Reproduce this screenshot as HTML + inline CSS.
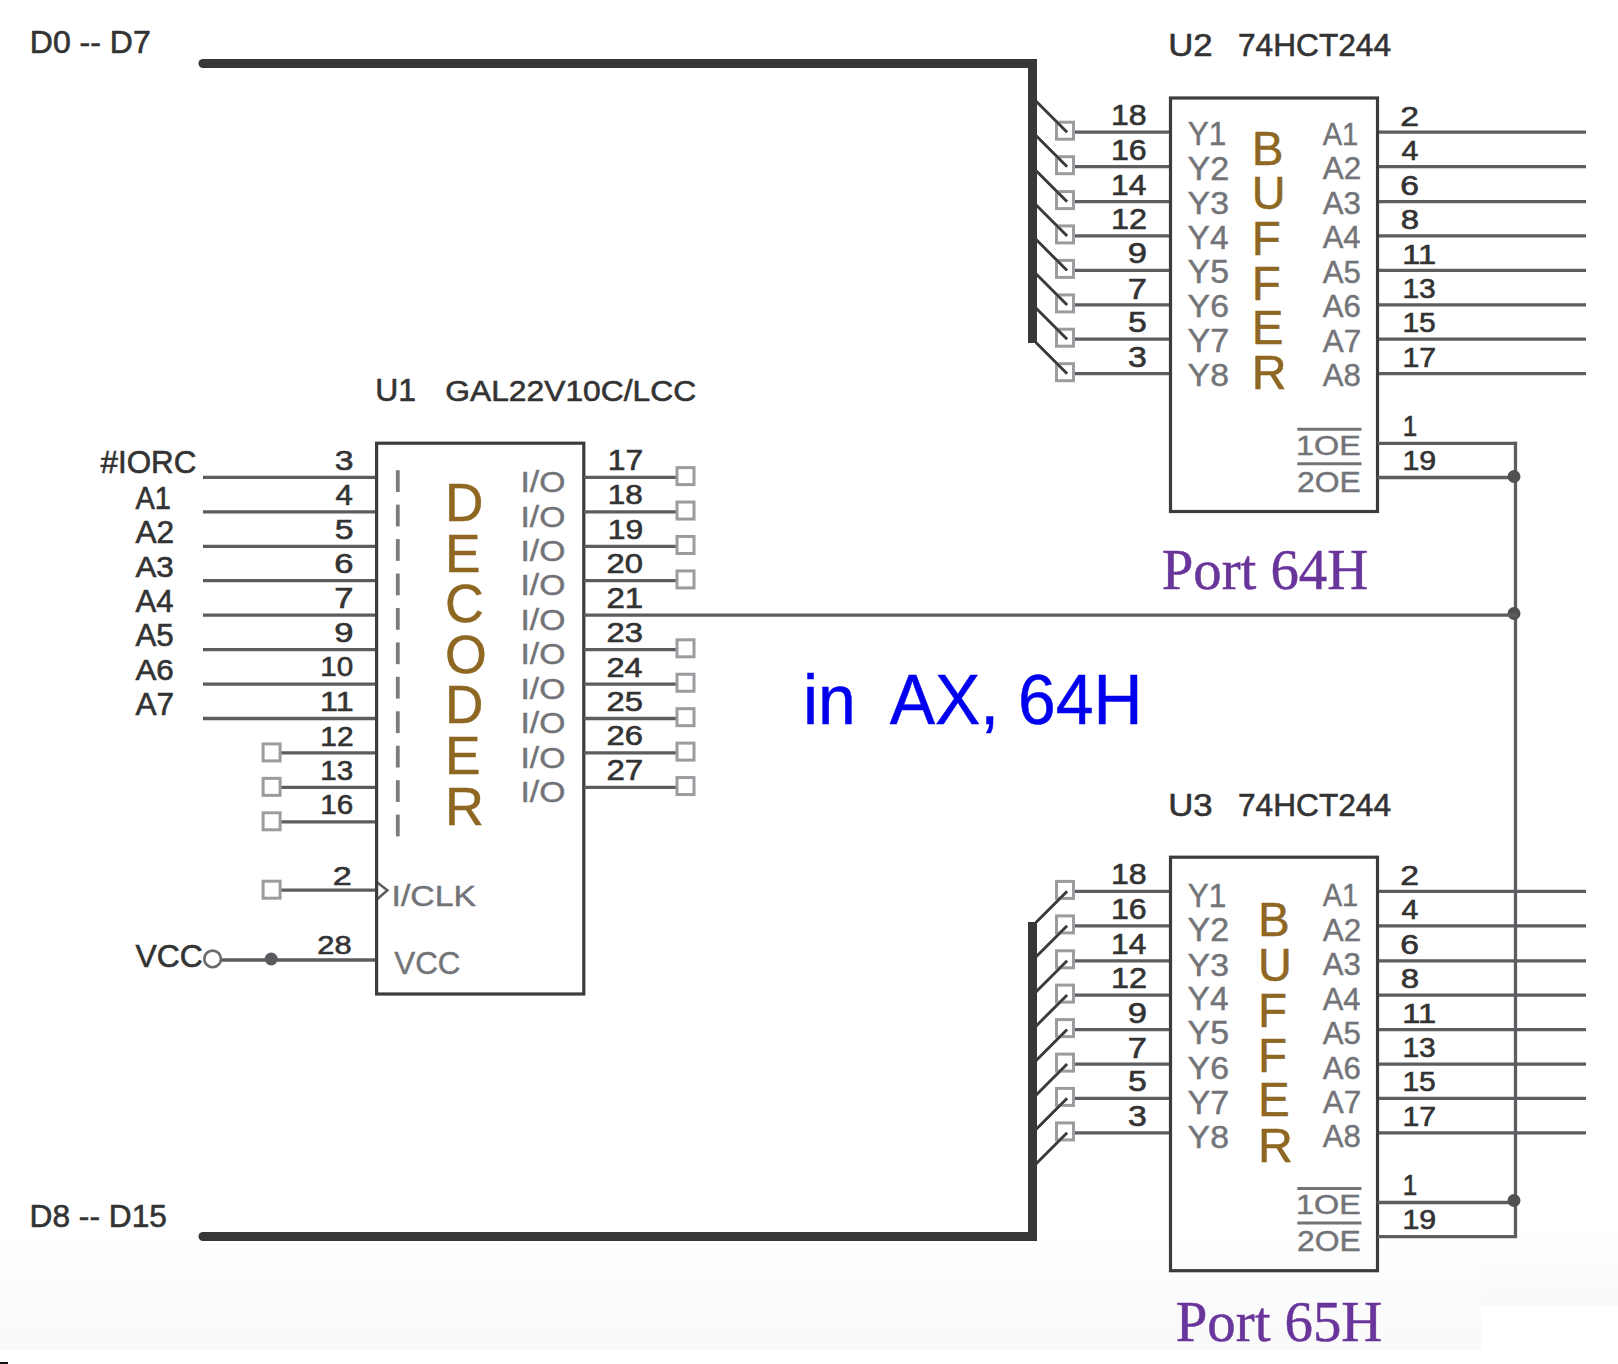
<!DOCTYPE html>
<html><head><meta charset="utf-8"><style>
html,body{margin:0;padding:0;background:#fff;}
svg{display:block;}
text{white-space:pre;}
</style></head><body>
<svg width="1618" height="1364" viewBox="0 0 1618 1364">
<g>
<rect x="0" y="0" width="1618" height="1364" fill="#fff"/>
<defs><linearGradient id="bg" x1="0" y1="0" x2="0" y2="1"><stop offset="0" stop-color="#ffffff"/><stop offset="1" stop-color="#f9f9f9"/></linearGradient></defs>
<rect x="0" y="1225" width="1481" height="125" fill="url(#bg)"/>
<rect x="1481" y="1225" width="137" height="81" fill="url(#bg)"/>
<rect x="0" y="1362" width="8" height="2" fill="#111"/>
<line x1="203" y1="63.5" x2="1032.5" y2="63.5" stroke="#373737" stroke-width="9" stroke-linecap="round"/>
<path d="M1020 63.5 H1032.5 V343" fill="none" stroke="#373737" stroke-width="9" stroke-linecap="butt" stroke-linejoin="miter"/>
<line x1="203" y1="1236.5" x2="1032.5" y2="1236.5" stroke="#373737" stroke-width="9" stroke-linecap="round"/>
<path d="M1020 1236.5 H1032.5 V922" fill="none" stroke="#373737" stroke-width="9" stroke-linecap="butt" stroke-linejoin="miter"/>
<line x1="1036" y1="101.19999999999999" x2="1067" y2="132.2" stroke="#3c3c3c" stroke-width="2.6" stroke-linecap="butt"/>
<line x1="1074" y1="132.2" x2="1170.5" y2="132.2" stroke="#5c5d60" stroke-width="3.3" stroke-linecap="butt"/>
<line x1="1377.5" y1="132.2" x2="1586" y2="132.2" stroke="#5c5d60" stroke-width="3.3" stroke-linecap="butt"/>
<line x1="1036" y1="135.7" x2="1067" y2="166.7" stroke="#3c3c3c" stroke-width="2.6" stroke-linecap="butt"/>
<line x1="1074" y1="166.7" x2="1170.5" y2="166.7" stroke="#5c5d60" stroke-width="3.3" stroke-linecap="butt"/>
<line x1="1377.5" y1="166.7" x2="1586" y2="166.7" stroke="#5c5d60" stroke-width="3.3" stroke-linecap="butt"/>
<line x1="1036" y1="170.6" x2="1067" y2="201.6" stroke="#3c3c3c" stroke-width="2.6" stroke-linecap="butt"/>
<line x1="1074" y1="201.6" x2="1170.5" y2="201.6" stroke="#5c5d60" stroke-width="3.3" stroke-linecap="butt"/>
<line x1="1377.5" y1="201.6" x2="1586" y2="201.6" stroke="#5c5d60" stroke-width="3.3" stroke-linecap="butt"/>
<line x1="1036" y1="204.9" x2="1067" y2="235.9" stroke="#3c3c3c" stroke-width="2.6" stroke-linecap="butt"/>
<line x1="1074" y1="235.9" x2="1170.5" y2="235.9" stroke="#5c5d60" stroke-width="3.3" stroke-linecap="butt"/>
<line x1="1377.5" y1="235.9" x2="1586" y2="235.9" stroke="#5c5d60" stroke-width="3.3" stroke-linecap="butt"/>
<line x1="1036" y1="239.39999999999998" x2="1067" y2="270.4" stroke="#3c3c3c" stroke-width="2.6" stroke-linecap="butt"/>
<line x1="1074" y1="270.4" x2="1170.5" y2="270.4" stroke="#5c5d60" stroke-width="3.3" stroke-linecap="butt"/>
<line x1="1377.5" y1="270.4" x2="1586" y2="270.4" stroke="#5c5d60" stroke-width="3.3" stroke-linecap="butt"/>
<line x1="1036" y1="273.9" x2="1067" y2="304.9" stroke="#3c3c3c" stroke-width="2.6" stroke-linecap="butt"/>
<line x1="1074" y1="304.9" x2="1170.5" y2="304.9" stroke="#5c5d60" stroke-width="3.3" stroke-linecap="butt"/>
<line x1="1377.5" y1="304.9" x2="1586" y2="304.9" stroke="#5c5d60" stroke-width="3.3" stroke-linecap="butt"/>
<line x1="1036" y1="308.2" x2="1067" y2="339.2" stroke="#3c3c3c" stroke-width="2.6" stroke-linecap="butt"/>
<line x1="1074" y1="339.2" x2="1170.5" y2="339.2" stroke="#5c5d60" stroke-width="3.3" stroke-linecap="butt"/>
<line x1="1377.5" y1="339.2" x2="1586" y2="339.2" stroke="#5c5d60" stroke-width="3.3" stroke-linecap="butt"/>
<line x1="1036" y1="342.7" x2="1067" y2="373.7" stroke="#3c3c3c" stroke-width="2.6" stroke-linecap="butt"/>
<line x1="1074" y1="373.7" x2="1170.5" y2="373.7" stroke="#5c5d60" stroke-width="3.3" stroke-linecap="butt"/>
<line x1="1377.5" y1="373.7" x2="1586" y2="373.7" stroke="#5c5d60" stroke-width="3.3" stroke-linecap="butt"/>
<rect x="1056.5" y="122.19999999999999" width="17" height="17" fill="none" stroke="#9a9ca0" stroke-width="3"/>
<line x1="1036" y1="101.19999999999999" x2="1067" y2="132.2" stroke="#3c3c3c" stroke-width="2.6" stroke-linecap="butt"/>
<rect x="1056.5" y="156.7" width="17" height="17" fill="none" stroke="#9a9ca0" stroke-width="3"/>
<line x1="1036" y1="135.7" x2="1067" y2="166.7" stroke="#3c3c3c" stroke-width="2.6" stroke-linecap="butt"/>
<rect x="1056.5" y="191.6" width="17" height="17" fill="none" stroke="#9a9ca0" stroke-width="3"/>
<line x1="1036" y1="170.6" x2="1067" y2="201.6" stroke="#3c3c3c" stroke-width="2.6" stroke-linecap="butt"/>
<rect x="1056.5" y="225.9" width="17" height="17" fill="none" stroke="#9a9ca0" stroke-width="3"/>
<line x1="1036" y1="204.9" x2="1067" y2="235.9" stroke="#3c3c3c" stroke-width="2.6" stroke-linecap="butt"/>
<rect x="1056.5" y="260.4" width="17" height="17" fill="none" stroke="#9a9ca0" stroke-width="3"/>
<line x1="1036" y1="239.39999999999998" x2="1067" y2="270.4" stroke="#3c3c3c" stroke-width="2.6" stroke-linecap="butt"/>
<rect x="1056.5" y="294.9" width="17" height="17" fill="none" stroke="#9a9ca0" stroke-width="3"/>
<line x1="1036" y1="273.9" x2="1067" y2="304.9" stroke="#3c3c3c" stroke-width="2.6" stroke-linecap="butt"/>
<rect x="1056.5" y="329.2" width="17" height="17" fill="none" stroke="#9a9ca0" stroke-width="3"/>
<line x1="1036" y1="308.2" x2="1067" y2="339.2" stroke="#3c3c3c" stroke-width="2.6" stroke-linecap="butt"/>
<rect x="1056.5" y="363.7" width="17" height="17" fill="none" stroke="#9a9ca0" stroke-width="3"/>
<line x1="1036" y1="342.7" x2="1067" y2="373.7" stroke="#3c3c3c" stroke-width="2.6" stroke-linecap="butt"/>
<rect x="1170.5" y="98" width="207" height="413.5" fill="none" stroke="#3c3c3c" stroke-width="3.2"/>
<line x1="1377.5" y1="443.3" x2="1517" y2="443.3" stroke="#5c5d60" stroke-width="3.3" stroke-linecap="butt"/>
<line x1="1377.5" y1="477.5" x2="1517" y2="477.5" stroke="#5c5d60" stroke-width="3.3" stroke-linecap="butt"/>
<line x1="1297.3" y1="429.2" x2="1361.5" y2="429.2" stroke="#737478" stroke-width="3" stroke-linecap="butt"/>
<line x1="1297.3" y1="463.7" x2="1361.5" y2="463.7" stroke="#737478" stroke-width="3" stroke-linecap="butt"/>
<line x1="1036" y1="922.4000000000001" x2="1067" y2="891.4000000000001" stroke="#3c3c3c" stroke-width="2.6" stroke-linecap="butt"/>
<line x1="1074" y1="891.4000000000001" x2="1170.5" y2="891.4000000000001" stroke="#5c5d60" stroke-width="3.3" stroke-linecap="butt"/>
<line x1="1377.5" y1="891.4000000000001" x2="1586" y2="891.4000000000001" stroke="#5c5d60" stroke-width="3.3" stroke-linecap="butt"/>
<line x1="1036" y1="956.9000000000001" x2="1067" y2="925.9000000000001" stroke="#3c3c3c" stroke-width="2.6" stroke-linecap="butt"/>
<line x1="1074" y1="925.9000000000001" x2="1170.5" y2="925.9000000000001" stroke="#5c5d60" stroke-width="3.3" stroke-linecap="butt"/>
<line x1="1377.5" y1="925.9000000000001" x2="1586" y2="925.9000000000001" stroke="#5c5d60" stroke-width="3.3" stroke-linecap="butt"/>
<line x1="1036" y1="991.8000000000001" x2="1067" y2="960.8000000000001" stroke="#3c3c3c" stroke-width="2.6" stroke-linecap="butt"/>
<line x1="1074" y1="960.8000000000001" x2="1170.5" y2="960.8000000000001" stroke="#5c5d60" stroke-width="3.3" stroke-linecap="butt"/>
<line x1="1377.5" y1="960.8000000000001" x2="1586" y2="960.8000000000001" stroke="#5c5d60" stroke-width="3.3" stroke-linecap="butt"/>
<line x1="1036" y1="1026.1" x2="1067" y2="995.1" stroke="#3c3c3c" stroke-width="2.6" stroke-linecap="butt"/>
<line x1="1074" y1="995.1" x2="1170.5" y2="995.1" stroke="#5c5d60" stroke-width="3.3" stroke-linecap="butt"/>
<line x1="1377.5" y1="995.1" x2="1586" y2="995.1" stroke="#5c5d60" stroke-width="3.3" stroke-linecap="butt"/>
<line x1="1036" y1="1060.6" x2="1067" y2="1029.6" stroke="#3c3c3c" stroke-width="2.6" stroke-linecap="butt"/>
<line x1="1074" y1="1029.6" x2="1170.5" y2="1029.6" stroke="#5c5d60" stroke-width="3.3" stroke-linecap="butt"/>
<line x1="1377.5" y1="1029.6" x2="1586" y2="1029.6" stroke="#5c5d60" stroke-width="3.3" stroke-linecap="butt"/>
<line x1="1036" y1="1095.1" x2="1067" y2="1064.1" stroke="#3c3c3c" stroke-width="2.6" stroke-linecap="butt"/>
<line x1="1074" y1="1064.1" x2="1170.5" y2="1064.1" stroke="#5c5d60" stroke-width="3.3" stroke-linecap="butt"/>
<line x1="1377.5" y1="1064.1" x2="1586" y2="1064.1" stroke="#5c5d60" stroke-width="3.3" stroke-linecap="butt"/>
<line x1="1036" y1="1129.4" x2="1067" y2="1098.4" stroke="#3c3c3c" stroke-width="2.6" stroke-linecap="butt"/>
<line x1="1074" y1="1098.4" x2="1170.5" y2="1098.4" stroke="#5c5d60" stroke-width="3.3" stroke-linecap="butt"/>
<line x1="1377.5" y1="1098.4" x2="1586" y2="1098.4" stroke="#5c5d60" stroke-width="3.3" stroke-linecap="butt"/>
<line x1="1036" y1="1163.9" x2="1067" y2="1132.9" stroke="#3c3c3c" stroke-width="2.6" stroke-linecap="butt"/>
<line x1="1074" y1="1132.9" x2="1170.5" y2="1132.9" stroke="#5c5d60" stroke-width="3.3" stroke-linecap="butt"/>
<line x1="1377.5" y1="1132.9" x2="1586" y2="1132.9" stroke="#5c5d60" stroke-width="3.3" stroke-linecap="butt"/>
<rect x="1056.5" y="881.4000000000001" width="17" height="17" fill="none" stroke="#9a9ca0" stroke-width="3"/>
<line x1="1036" y1="922.4000000000001" x2="1067" y2="891.4000000000001" stroke="#3c3c3c" stroke-width="2.6" stroke-linecap="butt"/>
<rect x="1056.5" y="915.9000000000001" width="17" height="17" fill="none" stroke="#9a9ca0" stroke-width="3"/>
<line x1="1036" y1="956.9000000000001" x2="1067" y2="925.9000000000001" stroke="#3c3c3c" stroke-width="2.6" stroke-linecap="butt"/>
<rect x="1056.5" y="950.8000000000001" width="17" height="17" fill="none" stroke="#9a9ca0" stroke-width="3"/>
<line x1="1036" y1="991.8000000000001" x2="1067" y2="960.8000000000001" stroke="#3c3c3c" stroke-width="2.6" stroke-linecap="butt"/>
<rect x="1056.5" y="985.1" width="17" height="17" fill="none" stroke="#9a9ca0" stroke-width="3"/>
<line x1="1036" y1="1026.1" x2="1067" y2="995.1" stroke="#3c3c3c" stroke-width="2.6" stroke-linecap="butt"/>
<rect x="1056.5" y="1019.5999999999999" width="17" height="17" fill="none" stroke="#9a9ca0" stroke-width="3"/>
<line x1="1036" y1="1060.6" x2="1067" y2="1029.6" stroke="#3c3c3c" stroke-width="2.6" stroke-linecap="butt"/>
<rect x="1056.5" y="1054.1" width="17" height="17" fill="none" stroke="#9a9ca0" stroke-width="3"/>
<line x1="1036" y1="1095.1" x2="1067" y2="1064.1" stroke="#3c3c3c" stroke-width="2.6" stroke-linecap="butt"/>
<rect x="1056.5" y="1088.4" width="17" height="17" fill="none" stroke="#9a9ca0" stroke-width="3"/>
<line x1="1036" y1="1129.4" x2="1067" y2="1098.4" stroke="#3c3c3c" stroke-width="2.6" stroke-linecap="butt"/>
<rect x="1056.5" y="1122.9" width="17" height="17" fill="none" stroke="#9a9ca0" stroke-width="3"/>
<line x1="1036" y1="1163.9" x2="1067" y2="1132.9" stroke="#3c3c3c" stroke-width="2.6" stroke-linecap="butt"/>
<rect x="1170.5" y="857.2" width="207" height="413.5" fill="none" stroke="#3c3c3c" stroke-width="3.2"/>
<line x1="1377.5" y1="1202.5" x2="1517" y2="1202.5" stroke="#5c5d60" stroke-width="3.3" stroke-linecap="butt"/>
<line x1="1377.5" y1="1236.7" x2="1517" y2="1236.7" stroke="#5c5d60" stroke-width="3.3" stroke-linecap="butt"/>
<line x1="1297.3" y1="1188.4" x2="1361.5" y2="1188.4" stroke="#737478" stroke-width="3" stroke-linecap="butt"/>
<line x1="1297.3" y1="1222.9" x2="1361.5" y2="1222.9" stroke="#737478" stroke-width="3" stroke-linecap="butt"/>
<line x1="1515.5" y1="441.8" x2="1515.5" y2="1237.5" stroke="#5c5d60" stroke-width="3.3" stroke-linecap="butt"/>
<circle cx="1514" cy="476.5" r="6.5" fill="#505153" stroke="none" stroke-width="0"/>
<circle cx="1514" cy="613.5" r="6.5" fill="#505153" stroke="none" stroke-width="0"/>
<circle cx="1514" cy="1200.5" r="6.5" fill="#505153" stroke="none" stroke-width="0"/>
<line x1="203" y1="477.4" x2="376.6" y2="477.4" stroke="#5c5d60" stroke-width="3.3" stroke-linecap="butt"/>
<rect x="395.9" y="470.20" width="3.8" height="21.8" fill="#7a7b7e"/>
<line x1="203" y1="511.84" x2="376.6" y2="511.84" stroke="#5c5d60" stroke-width="3.3" stroke-linecap="butt"/>
<rect x="395.9" y="504.64" width="3.8" height="21.8" fill="#7a7b7e"/>
<line x1="203" y1="546.28" x2="376.6" y2="546.28" stroke="#5c5d60" stroke-width="3.3" stroke-linecap="butt"/>
<rect x="395.9" y="539.08" width="3.8" height="21.8" fill="#7a7b7e"/>
<line x1="203" y1="580.72" x2="376.6" y2="580.72" stroke="#5c5d60" stroke-width="3.3" stroke-linecap="butt"/>
<rect x="395.9" y="573.52" width="3.8" height="21.8" fill="#7a7b7e"/>
<line x1="203" y1="615.16" x2="376.6" y2="615.16" stroke="#5c5d60" stroke-width="3.3" stroke-linecap="butt"/>
<rect x="395.9" y="607.96" width="3.8" height="21.8" fill="#7a7b7e"/>
<line x1="203" y1="649.5999999999999" x2="376.6" y2="649.5999999999999" stroke="#5c5d60" stroke-width="3.3" stroke-linecap="butt"/>
<rect x="395.9" y="642.40" width="3.8" height="21.8" fill="#7a7b7e"/>
<line x1="203" y1="684.04" x2="376.6" y2="684.04" stroke="#5c5d60" stroke-width="3.3" stroke-linecap="butt"/>
<rect x="395.9" y="676.84" width="3.8" height="21.8" fill="#7a7b7e"/>
<line x1="203" y1="718.48" x2="376.6" y2="718.48" stroke="#5c5d60" stroke-width="3.3" stroke-linecap="butt"/>
<rect x="395.9" y="711.28" width="3.8" height="21.8" fill="#7a7b7e"/>
<line x1="281" y1="752.92" x2="376.6" y2="752.92" stroke="#5c5d60" stroke-width="3.3" stroke-linecap="butt"/>
<rect x="263.1" y="743.92" width="17" height="17" fill="#fff" stroke="#9a9ca0" stroke-width="3"/>
<rect x="395.9" y="745.72" width="3.8" height="21.8" fill="#7a7b7e"/>
<line x1="281" y1="787.3599999999999" x2="376.6" y2="787.3599999999999" stroke="#5c5d60" stroke-width="3.3" stroke-linecap="butt"/>
<rect x="263.1" y="778.3599999999999" width="17" height="17" fill="#fff" stroke="#9a9ca0" stroke-width="3"/>
<rect x="395.9" y="780.16" width="3.8" height="21.8" fill="#7a7b7e"/>
<line x1="281" y1="821.8" x2="376.6" y2="821.8" stroke="#5c5d60" stroke-width="3.3" stroke-linecap="butt"/>
<rect x="263.1" y="812.8" width="17" height="17" fill="#fff" stroke="#9a9ca0" stroke-width="3"/>
<rect x="395.9" y="814.60" width="3.8" height="21.8" fill="#7a7b7e"/>
<line x1="281" y1="890.2" x2="376.6" y2="890.2" stroke="#5c5d60" stroke-width="3.3" stroke-linecap="butt"/>
<rect x="263.1" y="881.2" width="17" height="17" fill="#fff" stroke="#9a9ca0" stroke-width="3"/>
<path d="M376 881.6 L387.4 890.2 L376 900.2" fill="none" stroke="#5c5d60" stroke-width="2.5" stroke-linecap="butt" stroke-linejoin="miter"/>
<line x1="221" y1="960.0" x2="376.6" y2="960.0" stroke="#5c5d60" stroke-width="3.3" stroke-linecap="butt"/>
<circle cx="212.6" cy="958.9" r="8.3" fill="#fff" stroke="#6a6b6e" stroke-width="2.6"/>
<circle cx="271.2" cy="959.0" r="6.5" fill="#5a5b5f" stroke="none" stroke-width="0"/>
<rect x="376.6" y="443.2" width="207.2" height="550.8" fill="none" stroke="#3c3c3c" stroke-width="3.2"/>
<line x1="583.8" y1="477.4" x2="677" y2="477.4" stroke="#5c5d60" stroke-width="3.3" stroke-linecap="butt"/>
<rect x="677.0" y="467.59999999999997" width="17" height="17" fill="#fff" stroke="#9a9ca0" stroke-width="3"/>
<line x1="583.8" y1="511.84" x2="677" y2="511.84" stroke="#5c5d60" stroke-width="3.3" stroke-linecap="butt"/>
<rect x="677.0" y="502.03999999999996" width="17" height="17" fill="#fff" stroke="#9a9ca0" stroke-width="3"/>
<line x1="583.8" y1="546.28" x2="677" y2="546.28" stroke="#5c5d60" stroke-width="3.3" stroke-linecap="butt"/>
<rect x="677.0" y="536.48" width="17" height="17" fill="#fff" stroke="#9a9ca0" stroke-width="3"/>
<line x1="583.8" y1="580.72" x2="677" y2="580.72" stroke="#5c5d60" stroke-width="3.3" stroke-linecap="butt"/>
<rect x="677.0" y="570.9200000000001" width="17" height="17" fill="#fff" stroke="#9a9ca0" stroke-width="3"/>
<line x1="583.8" y1="615.16" x2="1517" y2="615.16" stroke="#5c5d60" stroke-width="3.3" stroke-linecap="butt"/>
<line x1="583.8" y1="649.5999999999999" x2="677" y2="649.5999999999999" stroke="#5c5d60" stroke-width="3.3" stroke-linecap="butt"/>
<rect x="677.0" y="639.8" width="17" height="17" fill="#fff" stroke="#9a9ca0" stroke-width="3"/>
<line x1="583.8" y1="684.04" x2="677" y2="684.04" stroke="#5c5d60" stroke-width="3.3" stroke-linecap="butt"/>
<rect x="677.0" y="674.24" width="17" height="17" fill="#fff" stroke="#9a9ca0" stroke-width="3"/>
<line x1="583.8" y1="718.48" x2="677" y2="718.48" stroke="#5c5d60" stroke-width="3.3" stroke-linecap="butt"/>
<rect x="677.0" y="708.6800000000001" width="17" height="17" fill="#fff" stroke="#9a9ca0" stroke-width="3"/>
<line x1="583.8" y1="752.92" x2="677" y2="752.92" stroke="#5c5d60" stroke-width="3.3" stroke-linecap="butt"/>
<rect x="677.0" y="743.12" width="17" height="17" fill="#fff" stroke="#9a9ca0" stroke-width="3"/>
<line x1="583.8" y1="787.3599999999999" x2="677" y2="787.3599999999999" stroke="#5c5d60" stroke-width="3.3" stroke-linecap="butt"/>
<rect x="677.0" y="777.56" width="17" height="17" fill="#fff" stroke="#9a9ca0" stroke-width="3"/>
<text transform="translate(29.84 53.09) scale(1.0188 1)" font-size="31.41" font-family="'Liberation Sans', sans-serif" fill="#333333" stroke="#333333" stroke-width="0.60">D0 -- D7</text>
<text transform="translate(29.57 1227.09) scale(1.0226 1)" font-size="30.99" font-family="'Liberation Sans', sans-serif" fill="#333333" stroke="#333333" stroke-width="0.60">D8 -- D15</text>
<text transform="translate(1168.22 56.48) scale(1.0784 1)" font-size="32.25" font-family="'Liberation Sans', sans-serif" fill="#333333" stroke="#333333" stroke-width="0.60">U2</text>
<text transform="translate(1238.02 56.48) scale(0.9816 1)" font-size="32.25" font-family="'Liberation Sans', sans-serif" fill="#333333" stroke="#333333" stroke-width="0.60">74HCT244</text>
<text transform="translate(1110.93 125.21) scale(1.1235 1)" font-size="28.59" font-family="'Liberation Sans', sans-serif" fill="#333333" stroke="#333333" stroke-width="0.60">18</text>
<text transform="translate(1400.32 125.50) scale(1.2349 1)" font-size="27.29" font-family="'Liberation Sans', sans-serif" fill="#333333" stroke="#333333" stroke-width="0.60">2</text>
<text transform="translate(1187.66 145.00) scale(0.9572 1)" font-size="32.90" font-family="'Liberation Sans', sans-serif" fill="#737478" stroke="#737478" stroke-width="0.45">Y1</text>
<text transform="translate(1322.70 144.70) scale(0.9267 1)" font-size="31.45" font-family="'Liberation Sans', sans-serif" fill="#737478" stroke="#737478" stroke-width="0.45">A1</text>
<text transform="translate(1110.93 159.71) scale(1.1235 1)" font-size="28.59" font-family="'Liberation Sans', sans-serif" fill="#333333" stroke="#333333" stroke-width="0.60">16</text>
<text transform="translate(1401.39 160.28) scale(1.0820 1)" font-size="28.09" font-family="'Liberation Sans', sans-serif" fill="#333333" stroke="#333333" stroke-width="0.60">4</text>
<text transform="translate(1187.58 179.50) scale(1.0522 1)" font-size="32.43" font-family="'Liberation Sans', sans-serif" fill="#737478" stroke="#737478" stroke-width="0.45">Y2</text>
<text transform="translate(1322.70 179.20) scale(1.0146 1)" font-size="31.00" font-family="'Liberation Sans', sans-serif" fill="#737478" stroke="#737478" stroke-width="0.45">A2</text>
<text transform="translate(1110.96 194.90) scale(1.0809 1)" font-size="29.42" font-family="'Liberation Sans', sans-serif" fill="#333333" stroke="#333333" stroke-width="0.60">14</text>
<text transform="translate(1400.32 194.63) scale(1.2526 1)" font-size="26.90" font-family="'Liberation Sans', sans-serif" fill="#333333" stroke="#333333" stroke-width="0.60">6</text>
<text transform="translate(1187.59 214.08) scale(1.0580 1)" font-size="31.97" font-family="'Liberation Sans', sans-serif" fill="#737478" stroke="#737478" stroke-width="0.45">Y3</text>
<text transform="translate(1322.70 213.79) scale(1.0204 1)" font-size="30.56" font-family="'Liberation Sans', sans-serif" fill="#737478" stroke="#737478" stroke-width="0.45">A3</text>
<text transform="translate(1110.90 229.20) scale(1.1189 1)" font-size="29.00" font-family="'Liberation Sans', sans-serif" fill="#333333" stroke="#333333" stroke-width="0.60">12</text>
<text transform="translate(1400.68 228.93) scale(1.2259 1)" font-size="26.90" font-family="'Liberation Sans', sans-serif" fill="#333333" stroke="#333333" stroke-width="0.60">8</text>
<text transform="translate(1187.59 248.70) scale(1.0193 1)" font-size="32.90" font-family="'Liberation Sans', sans-serif" fill="#737478" stroke="#737478" stroke-width="0.45">Y4</text>
<text transform="translate(1322.70 248.40) scale(0.9833 1)" font-size="31.45" font-family="'Liberation Sans', sans-serif" fill="#737478" stroke="#737478" stroke-width="0.45">A4</text>
<text transform="translate(1127.67 263.41) scale(1.2089 1)" font-size="28.59" font-family="'Liberation Sans', sans-serif" fill="#333333" stroke="#333333" stroke-width="0.60">9</text>
<text transform="translate(1402.19 263.70) scale(1.1790 1)" font-size="27.68" font-family="'Liberation Sans', sans-serif" fill="#333333" stroke="#333333" stroke-width="0.60">11</text>
<text transform="translate(1187.59 282.88) scale(1.0431 1)" font-size="32.43" font-family="'Liberation Sans', sans-serif" fill="#737478" stroke="#737478" stroke-width="0.45">Y5</text>
<text transform="translate(1322.70 282.59) scale(1.0060 1)" font-size="31.00" font-family="'Liberation Sans', sans-serif" fill="#737478" stroke="#737478" stroke-width="0.45">A5</text>
<text transform="translate(1127.67 298.50) scale(1.1578 1)" font-size="29.85" font-family="'Liberation Sans', sans-serif" fill="#333333" stroke="#333333" stroke-width="0.60">7</text>
<text transform="translate(1402.40 297.93) scale(1.1152 1)" font-size="26.90" font-family="'Liberation Sans', sans-serif" fill="#333333" stroke="#333333" stroke-width="0.60">13</text>
<text transform="translate(1187.59 317.38) scale(1.0580 1)" font-size="31.97" font-family="'Liberation Sans', sans-serif" fill="#737478" stroke="#737478" stroke-width="0.45">Y6</text>
<text transform="translate(1322.70 317.09) scale(1.0204 1)" font-size="30.56" font-family="'Liberation Sans', sans-serif" fill="#737478" stroke="#737478" stroke-width="0.45">A6</text>
<text transform="translate(1128.05 332.21) scale(1.1665 1)" font-size="29.00" font-family="'Liberation Sans', sans-serif" fill="#333333" stroke="#333333" stroke-width="0.60">5</text>
<text transform="translate(1402.40 332.23) scale(1.0995 1)" font-size="27.29" font-family="'Liberation Sans', sans-serif" fill="#333333" stroke="#333333" stroke-width="0.60">15</text>
<text transform="translate(1187.58 352.00) scale(1.0372 1)" font-size="32.90" font-family="'Liberation Sans', sans-serif" fill="#737478" stroke="#737478" stroke-width="0.45">Y7</text>
<text x="1322.70" y="351.70" font-size="31.45" font-family="'Liberation Sans', sans-serif" fill="#737478" stroke="#737478" stroke-width="0.45">A7</text>
<text transform="translate(1128.05 366.71) scale(1.1832 1)" font-size="28.59" font-family="'Liberation Sans', sans-serif" fill="#333333" stroke="#333333" stroke-width="0.60">3</text>
<text transform="translate(1402.38 367.00) scale(1.0948 1)" font-size="27.68" font-family="'Liberation Sans', sans-serif" fill="#333333" stroke="#333333" stroke-width="0.60">17</text>
<text transform="translate(1187.59 386.18) scale(1.0580 1)" font-size="31.97" font-family="'Liberation Sans', sans-serif" fill="#737478" stroke="#737478" stroke-width="0.45">Y8</text>
<text transform="translate(1322.70 385.89) scale(1.0204 1)" font-size="30.56" font-family="'Liberation Sans', sans-serif" fill="#737478" stroke="#737478" stroke-width="0.45">A8</text>
<text x="1251.80" y="165.10" font-size="47.54" font-family="'Liberation Sans', sans-serif" fill="#8e6722" stroke="#8e6722" stroke-width="0.50">B</text>
<text x="1251.85" y="208.73" font-size="46.86" font-family="'Liberation Sans', sans-serif" fill="#8e6722" stroke="#8e6722" stroke-width="0.50">U</text>
<text x="1251.80" y="255.40" font-size="47.54" font-family="'Liberation Sans', sans-serif" fill="#8e6722" stroke="#8e6722" stroke-width="0.50">F</text>
<text x="1251.80" y="299.50" font-size="47.54" font-family="'Liberation Sans', sans-serif" fill="#8e6722" stroke="#8e6722" stroke-width="0.50">F</text>
<text x="1251.80" y="343.60" font-size="47.54" font-family="'Liberation Sans', sans-serif" fill="#8e6722" stroke="#8e6722" stroke-width="0.50">E</text>
<text x="1251.74" y="389.18" font-size="48.24" font-family="'Liberation Sans', sans-serif" fill="#8e6722" stroke="#8e6722" stroke-width="0.50">R</text>
<text transform="translate(1402.72 436.20) scale(0.9077 1)" font-size="28.70" font-family="'Liberation Sans', sans-serif" fill="#333333" stroke="#333333" stroke-width="0.60">1</text>
<text transform="translate(1402.38 469.93) scale(1.1325 1)" font-size="26.76" font-family="'Liberation Sans', sans-serif" fill="#333333" stroke="#333333" stroke-width="0.60">19</text>
<text transform="translate(1296.11 455.23) scale(1.1775 1)" font-size="27.46" font-family="'Liberation Sans', sans-serif" fill="#737478" stroke="#737478" stroke-width="0.45">1OE</text>
<text transform="translate(1297.11 491.70) scale(1.0661 1)" font-size="29.86" font-family="'Liberation Sans', sans-serif" fill="#737478" stroke="#737478" stroke-width="0.45">2OE</text>
<text transform="translate(1161.70 589.36) scale(0.9955 1)" font-size="57.01" font-family="'Liberation Serif', serif" fill="#69359a" stroke="#69359a" stroke-width="0.50">Port 64H</text>
<text transform="translate(1168.22 815.68) scale(1.0784 1)" font-size="32.25" font-family="'Liberation Sans', sans-serif" fill="#333333" stroke="#333333" stroke-width="0.60">U3</text>
<text transform="translate(1238.02 815.68) scale(0.9816 1)" font-size="32.25" font-family="'Liberation Sans', sans-serif" fill="#333333" stroke="#333333" stroke-width="0.60">74HCT244</text>
<text transform="translate(1110.93 884.41) scale(1.1235 1)" font-size="28.59" font-family="'Liberation Sans', sans-serif" fill="#333333" stroke="#333333" stroke-width="0.60">18</text>
<text transform="translate(1400.32 884.70) scale(1.2349 1)" font-size="27.29" font-family="'Liberation Sans', sans-serif" fill="#333333" stroke="#333333" stroke-width="0.60">2</text>
<text transform="translate(1187.66 906.60) scale(0.9572 1)" font-size="32.90" font-family="'Liberation Sans', sans-serif" fill="#737478" stroke="#737478" stroke-width="0.45">Y1</text>
<text transform="translate(1322.70 906.30) scale(0.9267 1)" font-size="31.45" font-family="'Liberation Sans', sans-serif" fill="#737478" stroke="#737478" stroke-width="0.45">A1</text>
<text transform="translate(1110.93 918.91) scale(1.1235 1)" font-size="28.59" font-family="'Liberation Sans', sans-serif" fill="#333333" stroke="#333333" stroke-width="0.60">16</text>
<text transform="translate(1401.39 919.48) scale(1.0820 1)" font-size="28.09" font-family="'Liberation Sans', sans-serif" fill="#333333" stroke="#333333" stroke-width="0.60">4</text>
<text transform="translate(1187.58 941.10) scale(1.0522 1)" font-size="32.43" font-family="'Liberation Sans', sans-serif" fill="#737478" stroke="#737478" stroke-width="0.45">Y2</text>
<text transform="translate(1322.70 940.80) scale(1.0146 1)" font-size="31.00" font-family="'Liberation Sans', sans-serif" fill="#737478" stroke="#737478" stroke-width="0.45">A2</text>
<text transform="translate(1110.96 954.10) scale(1.0809 1)" font-size="29.42" font-family="'Liberation Sans', sans-serif" fill="#333333" stroke="#333333" stroke-width="0.60">14</text>
<text transform="translate(1400.32 953.83) scale(1.2526 1)" font-size="26.90" font-family="'Liberation Sans', sans-serif" fill="#333333" stroke="#333333" stroke-width="0.60">6</text>
<text transform="translate(1187.59 975.68) scale(1.0580 1)" font-size="31.97" font-family="'Liberation Sans', sans-serif" fill="#737478" stroke="#737478" stroke-width="0.45">Y3</text>
<text transform="translate(1322.70 975.39) scale(1.0204 1)" font-size="30.56" font-family="'Liberation Sans', sans-serif" fill="#737478" stroke="#737478" stroke-width="0.45">A3</text>
<text transform="translate(1110.90 988.40) scale(1.1189 1)" font-size="29.00" font-family="'Liberation Sans', sans-serif" fill="#333333" stroke="#333333" stroke-width="0.60">12</text>
<text transform="translate(1400.68 988.13) scale(1.2259 1)" font-size="26.90" font-family="'Liberation Sans', sans-serif" fill="#333333" stroke="#333333" stroke-width="0.60">8</text>
<text transform="translate(1187.59 1010.30) scale(1.0193 1)" font-size="32.90" font-family="'Liberation Sans', sans-serif" fill="#737478" stroke="#737478" stroke-width="0.45">Y4</text>
<text transform="translate(1322.70 1010.00) scale(0.9833 1)" font-size="31.45" font-family="'Liberation Sans', sans-serif" fill="#737478" stroke="#737478" stroke-width="0.45">A4</text>
<text transform="translate(1127.67 1022.61) scale(1.2089 1)" font-size="28.59" font-family="'Liberation Sans', sans-serif" fill="#333333" stroke="#333333" stroke-width="0.60">9</text>
<text transform="translate(1402.19 1022.90) scale(1.1790 1)" font-size="27.68" font-family="'Liberation Sans', sans-serif" fill="#333333" stroke="#333333" stroke-width="0.60">11</text>
<text transform="translate(1187.59 1044.48) scale(1.0431 1)" font-size="32.43" font-family="'Liberation Sans', sans-serif" fill="#737478" stroke="#737478" stroke-width="0.45">Y5</text>
<text transform="translate(1322.70 1044.19) scale(1.0060 1)" font-size="31.00" font-family="'Liberation Sans', sans-serif" fill="#737478" stroke="#737478" stroke-width="0.45">A5</text>
<text transform="translate(1127.67 1057.70) scale(1.1578 1)" font-size="29.85" font-family="'Liberation Sans', sans-serif" fill="#333333" stroke="#333333" stroke-width="0.60">7</text>
<text transform="translate(1402.40 1057.13) scale(1.1152 1)" font-size="26.90" font-family="'Liberation Sans', sans-serif" fill="#333333" stroke="#333333" stroke-width="0.60">13</text>
<text transform="translate(1187.59 1078.98) scale(1.0580 1)" font-size="31.97" font-family="'Liberation Sans', sans-serif" fill="#737478" stroke="#737478" stroke-width="0.45">Y6</text>
<text transform="translate(1322.70 1078.69) scale(1.0204 1)" font-size="30.56" font-family="'Liberation Sans', sans-serif" fill="#737478" stroke="#737478" stroke-width="0.45">A6</text>
<text transform="translate(1128.05 1091.41) scale(1.1665 1)" font-size="29.00" font-family="'Liberation Sans', sans-serif" fill="#333333" stroke="#333333" stroke-width="0.60">5</text>
<text transform="translate(1402.40 1091.43) scale(1.0995 1)" font-size="27.29" font-family="'Liberation Sans', sans-serif" fill="#333333" stroke="#333333" stroke-width="0.60">15</text>
<text transform="translate(1187.58 1113.60) scale(1.0372 1)" font-size="32.90" font-family="'Liberation Sans', sans-serif" fill="#737478" stroke="#737478" stroke-width="0.45">Y7</text>
<text x="1322.70" y="1113.30" font-size="31.45" font-family="'Liberation Sans', sans-serif" fill="#737478" stroke="#737478" stroke-width="0.45">A7</text>
<text transform="translate(1128.05 1125.91) scale(1.1832 1)" font-size="28.59" font-family="'Liberation Sans', sans-serif" fill="#333333" stroke="#333333" stroke-width="0.60">3</text>
<text transform="translate(1402.38 1126.20) scale(1.0948 1)" font-size="27.68" font-family="'Liberation Sans', sans-serif" fill="#333333" stroke="#333333" stroke-width="0.60">17</text>
<text transform="translate(1187.59 1147.78) scale(1.0580 1)" font-size="31.97" font-family="'Liberation Sans', sans-serif" fill="#737478" stroke="#737478" stroke-width="0.45">Y8</text>
<text transform="translate(1322.70 1147.49) scale(1.0204 1)" font-size="30.56" font-family="'Liberation Sans', sans-serif" fill="#737478" stroke="#737478" stroke-width="0.45">A8</text>
<text x="1258.00" y="936.10" font-size="47.54" font-family="'Liberation Sans', sans-serif" fill="#8e6722" stroke="#8e6722" stroke-width="0.50">B</text>
<text x="1258.05" y="980.83" font-size="46.86" font-family="'Liberation Sans', sans-serif" fill="#8e6722" stroke="#8e6722" stroke-width="0.50">U</text>
<text x="1258.00" y="1027.40" font-size="47.54" font-family="'Liberation Sans', sans-serif" fill="#8e6722" stroke="#8e6722" stroke-width="0.50">F</text>
<text x="1258.00" y="1072.10" font-size="47.54" font-family="'Liberation Sans', sans-serif" fill="#8e6722" stroke="#8e6722" stroke-width="0.50">F</text>
<text x="1258.00" y="1115.60" font-size="47.54" font-family="'Liberation Sans', sans-serif" fill="#8e6722" stroke="#8e6722" stroke-width="0.50">E</text>
<text x="1257.94" y="1162.28" font-size="48.24" font-family="'Liberation Sans', sans-serif" fill="#8e6722" stroke="#8e6722" stroke-width="0.50">R</text>
<text transform="translate(1402.72 1195.40) scale(0.9077 1)" font-size="28.70" font-family="'Liberation Sans', sans-serif" fill="#333333" stroke="#333333" stroke-width="0.60">1</text>
<text transform="translate(1402.38 1229.13) scale(1.1325 1)" font-size="26.76" font-family="'Liberation Sans', sans-serif" fill="#333333" stroke="#333333" stroke-width="0.60">19</text>
<text transform="translate(1296.11 1214.43) scale(1.1775 1)" font-size="27.46" font-family="'Liberation Sans', sans-serif" fill="#737478" stroke="#737478" stroke-width="0.45">1OE</text>
<text transform="translate(1297.11 1250.90) scale(1.0661 1)" font-size="29.86" font-family="'Liberation Sans', sans-serif" fill="#737478" stroke="#737478" stroke-width="0.45">2OE</text>
<text transform="translate(1175.80 1341.06) scale(0.9960 1)" font-size="57.01" font-family="'Liberation Serif', serif" fill="#69359a" stroke="#69359a" stroke-width="0.50">Port 65H</text>
<text transform="translate(375.25 400.88) scale(1.0018 1)" font-size="31.86" font-family="'Liberation Sans', sans-serif" fill="#333333" stroke="#333333" stroke-width="0.60">U1</text>
<text transform="translate(445.21 400.90) scale(1.0555 1)" font-size="30.14" font-family="'Liberation Sans', sans-serif" fill="#333333" stroke="#333333" stroke-width="0.60">GAL22V10C/LCC</text>
<text transform="translate(100.50 472.78) scale(0.9863 1)" font-size="31.83" font-family="'Liberation Sans', sans-serif" fill="#333333" stroke="#333333" stroke-width="0.60">#IORC</text>
<text transform="translate(334.75 469.73) scale(1.2318 1)" font-size="27.46" font-family="'Liberation Sans', sans-serif" fill="#333333" stroke="#333333" stroke-width="0.60">3</text>
<text transform="translate(135.40 508.54) scale(0.9299 1)" font-size="31.16" font-family="'Liberation Sans', sans-serif" fill="#333333" stroke="#333333" stroke-width="0.60">A1</text>
<text transform="translate(335.48 504.73) scale(1.0872 1)" font-size="28.68" font-family="'Liberation Sans', sans-serif" fill="#333333" stroke="#333333" stroke-width="0.60">4</text>
<text transform="translate(135.40 542.98) scale(1.0296 1)" font-size="30.71" font-family="'Liberation Sans', sans-serif" fill="#333333" stroke="#333333" stroke-width="0.60">A2</text>
<text transform="translate(334.75 538.60) scale(1.2144 1)" font-size="27.86" font-family="'Liberation Sans', sans-serif" fill="#333333" stroke="#333333" stroke-width="0.60">5</text>
<text transform="translate(135.40 577.12) scale(1.0355 1)" font-size="30.28" font-family="'Liberation Sans', sans-serif" fill="#333333" stroke="#333333" stroke-width="0.60">A3</text>
<text transform="translate(334.37 573.05) scale(1.2585 1)" font-size="27.46" font-family="'Liberation Sans', sans-serif" fill="#333333" stroke="#333333" stroke-width="0.60">6</text>
<text transform="translate(135.40 611.86) scale(0.9979 1)" font-size="31.16" font-family="'Liberation Sans', sans-serif" fill="#333333" stroke="#333333" stroke-width="0.60">A4</text>
<text transform="translate(334.37 608.05) scale(1.2054 1)" font-size="28.68" font-family="'Liberation Sans', sans-serif" fill="#333333" stroke="#333333" stroke-width="0.60">7</text>
<text transform="translate(135.40 645.99) scale(1.0209 1)" font-size="30.71" font-family="'Liberation Sans', sans-serif" fill="#333333" stroke="#333333" stroke-width="0.60">A5</text>
<text transform="translate(334.37 641.93) scale(1.2585 1)" font-size="27.46" font-family="'Liberation Sans', sans-serif" fill="#333333" stroke="#333333" stroke-width="0.60">9</text>
<text transform="translate(135.40 680.44) scale(1.0355 1)" font-size="30.28" font-family="'Liberation Sans', sans-serif" fill="#333333" stroke="#333333" stroke-width="0.60">A6</text>
<text transform="translate(320.33 676.37) scale(1.0776 1)" font-size="27.46" font-family="'Liberation Sans', sans-serif" fill="#333333" stroke="#333333" stroke-width="0.60">10</text>
<text transform="translate(135.40 715.18) scale(1.0149 1)" font-size="31.16" font-family="'Liberation Sans', sans-serif" fill="#333333" stroke="#333333" stroke-width="0.60">A7</text>
<text transform="translate(320.12 711.08) scale(1.1393 1)" font-size="28.26" font-family="'Liberation Sans', sans-serif" fill="#333333" stroke="#333333" stroke-width="0.60">11</text>
<text transform="translate(320.31 745.52) scale(1.0733 1)" font-size="27.86" font-family="'Liberation Sans', sans-serif" fill="#333333" stroke="#333333" stroke-width="0.60">12</text>
<text transform="translate(320.33 779.69) scale(1.0776 1)" font-size="27.46" font-family="'Liberation Sans', sans-serif" fill="#333333" stroke="#333333" stroke-width="0.60">13</text>
<text transform="translate(320.33 814.13) scale(1.0776 1)" font-size="27.46" font-family="'Liberation Sans', sans-serif" fill="#333333" stroke="#333333" stroke-width="0.60">16</text>
<text transform="translate(332.79 884.50) scale(1.2914 1)" font-size="26.43" font-family="'Liberation Sans', sans-serif" fill="#333333" stroke="#333333" stroke-width="0.60">2</text>
<text transform="translate(391.56 906.20) scale(1.1114 1)" font-size="30.41" font-family="'Liberation Sans', sans-serif" fill="#737478" stroke="#737478" stroke-width="0.45">I/CLK</text>
<text transform="translate(135.48 967.08) scale(0.9932 1)" font-size="32.11" font-family="'Liberation Sans', sans-serif" fill="#333333" stroke="#333333" stroke-width="0.60">VCC</text>
<text transform="translate(317.26 954.34) scale(1.1751 1)" font-size="26.20" font-family="'Liberation Sans', sans-serif" fill="#333333" stroke="#333333" stroke-width="0.60">28</text>
<text transform="translate(394.29 973.78) scale(0.9896 1)" font-size="31.69" font-family="'Liberation Sans', sans-serif" fill="#737478" stroke="#737478" stroke-width="0.45">VCC</text>
<text x="445.04" y="520.80" font-size="53.19" font-family="'Liberation Sans', sans-serif" fill="#8e6722" stroke="#8e6722" stroke-width="0.50">D</text>
<text x="445.04" y="571.70" font-size="53.19" font-family="'Liberation Sans', sans-serif" fill="#8e6722" stroke="#8e6722" stroke-width="0.50">E</text>
<text x="444.91" y="622.06" font-size="53.80" font-family="'Liberation Sans', sans-serif" fill="#8e6722" stroke="#8e6722" stroke-width="0.50">C</text>
<text x="444.91" y="672.96" font-size="53.80" font-family="'Liberation Sans', sans-serif" fill="#8e6722" stroke="#8e6722" stroke-width="0.50">O</text>
<text x="445.04" y="722.70" font-size="53.19" font-family="'Liberation Sans', sans-serif" fill="#8e6722" stroke="#8e6722" stroke-width="0.50">D</text>
<text x="445.04" y="773.60" font-size="53.19" font-family="'Liberation Sans', sans-serif" fill="#8e6722" stroke="#8e6722" stroke-width="0.50">E</text>
<text x="444.98" y="824.84" font-size="53.97" font-family="'Liberation Sans', sans-serif" fill="#8e6722" stroke="#8e6722" stroke-width="0.50">R</text>
<text transform="translate(607.75 470.10) scale(1.0984 1)" font-size="28.99" font-family="'Liberation Sans', sans-serif" fill="#333333" stroke="#333333" stroke-width="0.60">17</text>
<text transform="translate(520.47 492.10) scale(1.1182 1)" font-size="30.14" font-family="'Liberation Sans', sans-serif" fill="#737478" stroke="#737478" stroke-width="0.45">I/O</text>
<text transform="translate(607.78 504.26) scale(1.1188 1)" font-size="28.17" font-family="'Liberation Sans', sans-serif" fill="#333333" stroke="#333333" stroke-width="0.60">18</text>
<text transform="translate(520.47 526.54) scale(1.1182 1)" font-size="30.14" font-family="'Liberation Sans', sans-serif" fill="#737478" stroke="#737478" stroke-width="0.45">I/O</text>
<text transform="translate(607.75 538.70) scale(1.1302 1)" font-size="28.17" font-family="'Liberation Sans', sans-serif" fill="#333333" stroke="#333333" stroke-width="0.60">19</text>
<text transform="translate(520.47 560.98) scale(1.1182 1)" font-size="30.14" font-family="'Liberation Sans', sans-serif" fill="#737478" stroke="#737478" stroke-width="0.45">I/O</text>
<text transform="translate(606.46 573.14) scale(1.1625 1)" font-size="28.17" font-family="'Liberation Sans', sans-serif" fill="#333333" stroke="#333333" stroke-width="0.60">20</text>
<text transform="translate(520.47 595.42) scale(1.1182 1)" font-size="30.14" font-family="'Liberation Sans', sans-serif" fill="#737478" stroke="#737478" stroke-width="0.45">I/O</text>
<text transform="translate(606.45 607.86) scale(1.1574 1)" font-size="28.57" font-family="'Liberation Sans', sans-serif" fill="#333333" stroke="#333333" stroke-width="0.60">21</text>
<text transform="translate(520.47 629.86) scale(1.1182 1)" font-size="30.14" font-family="'Liberation Sans', sans-serif" fill="#737478" stroke="#737478" stroke-width="0.45">I/O</text>
<text transform="translate(606.46 642.02) scale(1.1625 1)" font-size="28.17" font-family="'Liberation Sans', sans-serif" fill="#333333" stroke="#333333" stroke-width="0.60">23</text>
<text transform="translate(520.47 664.30) scale(1.1182 1)" font-size="30.14" font-family="'Liberation Sans', sans-serif" fill="#737478" stroke="#737478" stroke-width="0.45">I/O</text>
<text transform="translate(606.48 676.74) scale(1.1350 1)" font-size="28.57" font-family="'Liberation Sans', sans-serif" fill="#333333" stroke="#333333" stroke-width="0.60">24</text>
<text transform="translate(520.47 698.74) scale(1.1182 1)" font-size="30.14" font-family="'Liberation Sans', sans-serif" fill="#737478" stroke="#737478" stroke-width="0.45">I/O</text>
<text transform="translate(606.46 710.90) scale(1.1625 1)" font-size="28.17" font-family="'Liberation Sans', sans-serif" fill="#333333" stroke="#333333" stroke-width="0.60">25</text>
<text transform="translate(520.47 733.18) scale(1.1182 1)" font-size="30.14" font-family="'Liberation Sans', sans-serif" fill="#737478" stroke="#737478" stroke-width="0.45">I/O</text>
<text transform="translate(606.46 745.34) scale(1.1625 1)" font-size="28.17" font-family="'Liberation Sans', sans-serif" fill="#333333" stroke="#333333" stroke-width="0.60">26</text>
<text transform="translate(520.47 767.62) scale(1.1182 1)" font-size="30.14" font-family="'Liberation Sans', sans-serif" fill="#737478" stroke="#737478" stroke-width="0.45">I/O</text>
<text transform="translate(606.45 780.06) scale(1.1574 1)" font-size="28.57" font-family="'Liberation Sans', sans-serif" fill="#333333" stroke="#333333" stroke-width="0.60">27</text>
<text transform="translate(520.47 802.06) scale(1.1182 1)" font-size="30.14" font-family="'Liberation Sans', sans-serif" fill="#737478" stroke="#737478" stroke-width="0.45">I/O</text>
<text transform="translate(802.95 723.80) scale(0.9640 1)" font-size="70.43" font-family="'Liberation Sans', sans-serif" fill="#0000ee" stroke="#0000ee" stroke-width="0.50">in  AX, 64H</text>
</g>
</svg>
</body></html>
